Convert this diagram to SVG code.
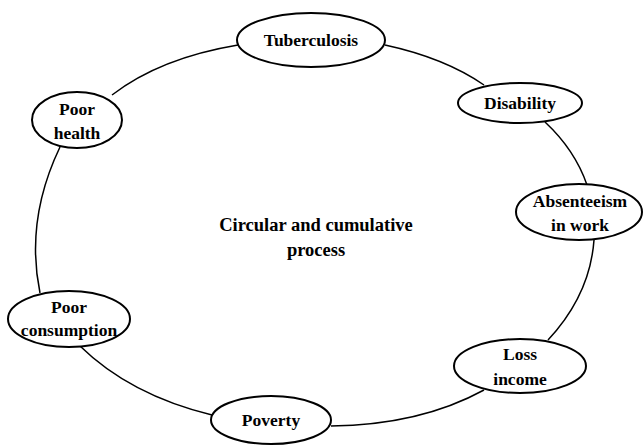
<svg xmlns="http://www.w3.org/2000/svg" width="644" height="447" viewBox="0 0 644 447">
<style>
.n ellipse{fill:#fff;stroke:#000;stroke-width:2}
.c path{fill:none;stroke:#000;stroke-width:1.5}
text{font-family:"Liberation Serif","Times New Roman",serif;font-weight:bold;font-size:17.5px;fill:#000;text-anchor:middle}
.big{font-size:18.5px}
</style>
<rect width="644" height="447" fill="#fff"/>
<g id="connectors" class="c">
<path d="M238,45 Q160,58 112,95"/>
<path d="M385,45 Q445,58 484,85"/>
<path d="M545,122 Q575,150 587,185"/>
<path d="M594,240 Q590,295 548,340"/>
<path d="M484,390 Q420,425 331,426"/>
<path d="M212,415 Q130,395 80,346"/>
<path d="M40,293 Q25,220 60,147"/>
</g>
<g id="tuberculosis" class="n"><ellipse cx="311" cy="40" rx="74" ry="27"/><text x="311" y="46">Tuberculosis</text></g>
<g id="poor-health" class="n"><ellipse cx="77" cy="120" rx="45" ry="28"/><text x="77" y="115">Poor</text><text x="77" y="139">health</text></g>
<g id="disability" class="n"><ellipse cx="520" cy="103" rx="62" ry="20"/><text x="520" y="109">Disability</text></g>
<g id="absenteeism" class="n"><ellipse cx="579" cy="212" rx="63" ry="28"/><text x="580" y="207">Absenteeism</text><text x="580" y="231">in work</text></g>
<g id="loss-income" class="n"><ellipse cx="520" cy="366" rx="66" ry="27"/><text x="520" y="360">Loss</text><text x="520" y="385">income</text></g>
<g id="poverty" class="n"><ellipse cx="271" cy="420" rx="60" ry="24"/><text x="271" y="426">Poverty</text></g>
<g id="poor-consumption" class="n"><ellipse cx="69" cy="319" rx="61" ry="28"/><text x="69" y="313">Poor</text><text x="69" y="336">consumption</text></g>
<g id="center-label"><text class="big" x="316" y="231">Circular and cumulative</text><text class="big" x="316" y="256">process</text></g>
</svg>
